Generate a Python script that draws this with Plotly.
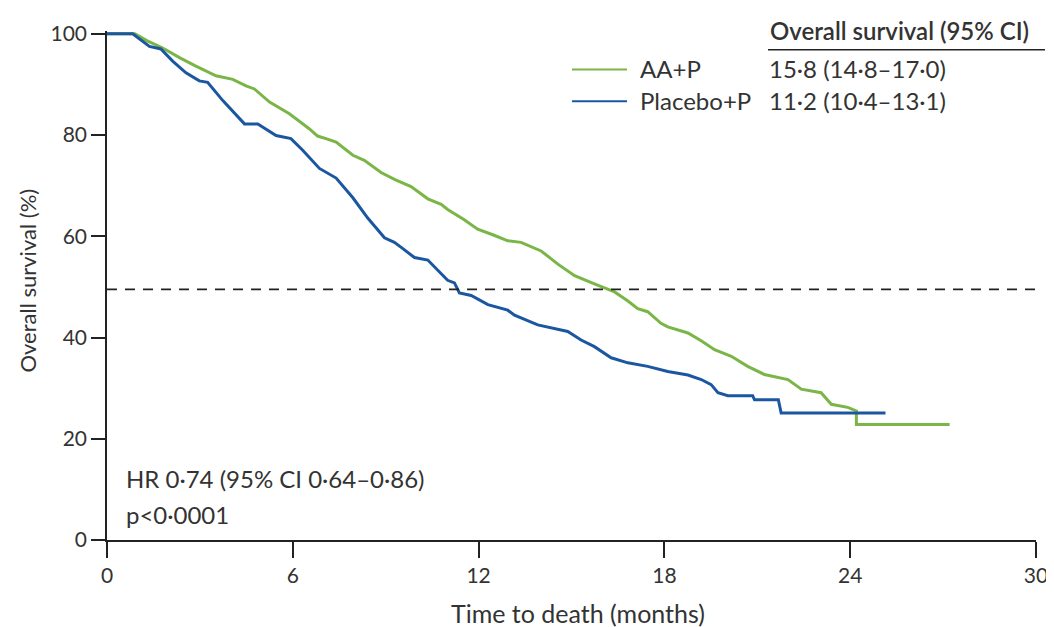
import plotly.graph_objects as go

# ---- data (months, % surviving) ----
aap_t = [0, 0.9, 1.3, 1.8, 2.34, 2.87, 3.52, 4.06, 4.49, 4.76, 5.25, 5.89, 6.54, 6.8, 7.07, 7.4,
         7.94, 8.31, 8.85, 9.3, 9.82, 10.36, 10.79, 11.0, 11.5, 11.97, 12.5, 12.94, 13.37, 14.02,
         14.56, 15.1, 15.74, 16.39, 16.8, 17.14, 17.46, 17.89, 18.11, 18.76, 19.2, 19.62, 20.16,
         20.69, 21.23, 21.99, 22.42, 23.06, 23.39, 23.92, 24.2, 24.2, 27.21]
aap_s = [100, 100, 98.6, 97.2, 95.3, 93.6, 91.7, 91.0, 89.7, 89.1, 86.5, 84.2, 81.2, 79.8, 79.3, 78.6,
         76.0, 75.0, 72.6, 71.2, 69.8, 67.4, 66.3, 65.3, 63.4, 61.4, 60.2, 59.1, 58.8, 57.1,
         54.5, 52.2, 50.6, 49.0, 47.3, 45.7, 45.1, 42.8, 42.1, 40.9, 39.3, 37.6, 36.3,
         34.3, 32.7, 31.7, 29.8, 29.1, 26.8, 26.2, 25.5, 22.8, 22.8]

pbo_t = [0, 0.83, 1.37, 1.74, 2.12, 2.55, 2.98, 3.25, 3.74, 4.17, 4.44, 4.87, 5.46, 5.94, 6.32,
         6.86, 7.4, 7.94, 8.2, 8.42, 8.96, 9.28, 9.5, 9.93, 10.36, 10.79, 11.0, 11.22, 11.38,
         11.76, 12.3, 12.94, 13.16, 13.91, 14.88, 15.31, 15.74, 16.28, 16.82, 17.46, 17.68,
         18.11, 18.76, 19.19, 19.51, 19.73, 20.05, 20.85, 20.91, 21.68, 21.77, 25.14]
pbo_s = [100, 100, 97.5, 97.0, 94.6, 92.3, 90.7, 90.4, 86.8, 83.9, 82.2, 82.2, 79.9, 79.3, 77.0,
         73.4, 71.5, 67.6, 65.3, 63.6, 59.7, 58.8, 57.8, 55.8, 55.3, 52.6, 51.3, 50.8, 48.8,
         48.3, 46.5, 45.4, 44.4, 42.5, 41.2, 39.5, 38.2, 36.0, 35.0, 34.3, 34.0,
         33.3, 32.6, 31.7, 30.7, 29.1, 28.5, 28.5, 27.7, 27.7, 25.1, 25.1]

median_line = 49.5
x_ticks = [0, 6, 12, 18, 24, 30]
y_ticks = [0, 20, 40, 60, 80, 100]
series_names = ["AA+P", "Placebo+P"]
series_ci = ["15·8 (14·8–17·0)", "11·2 (10·4–13·1)"]
header = "Overall survival (95% CI)"
hr_text = "HR 0·74 (95% CI 0·64–0·86)"
p_text = "p<0·0001"

GREEN = "#7ab547"
BLUE = "#1b56a0"
FONT = "Lato"
TXT = "#333333"

W, H = 1054, 627
ML, MR, MT, MB = 99, 26, 18, 95
PW, PH = W - ML - MR, H - MT - MB


def px(x):
    return (x - ML) / PW


def py(y):
    return (H - MB - y) / PH


fig = go.Figure()
fig.add_trace(go.Scatter(x=aap_t, y=aap_s, mode="lines", name=series_names[0],
                         line=dict(color=GREEN, width=3), showlegend=False))
fig.add_trace(go.Scatter(x=pbo_t, y=pbo_s, mode="lines", name=series_names[1],
                         line=dict(color=BLUE, width=3), showlegend=False))

shapes = [
    dict(type="line", xref="x", yref="y", x0=0, x1=30, y0=median_line, y1=median_line,
         line=dict(color="#222222", width=1.6, dash="10px,8px")),
    # legend samples
    dict(type="line", xref="paper", yref="paper", x0=px(564), x1=px(619), y0=py(57), y1=py(57),
         line=dict(color=GREEN, width=2)),
    dict(type="line", xref="paper", yref="paper", x0=px(564), x1=px(619), y0=py(89), y1=py(89),
         line=dict(color=BLUE, width=2)),
    # header underline
    dict(type="line", xref="paper", yref="paper", x0=px(760), x1=px(1037), y0=py(37), y1=py(37),
         line=dict(color="#222222", width=1.5)),
]

ann = []


def add_text(text, x, y, size=24, xanchor="left", angle=0, weight="normal"):
    ann.append(dict(text=text, xref="paper", yref="paper", x=px(x), y=py(y), xanchor=xanchor,
                    yanchor="middle", showarrow=False, textangle=angle,
                    font=dict(family=FONT, size=size, color=TXT, weight=weight)))


add_text(header, 760, 17, size=24, weight=600)
add_text(series_names[0], 630, 56)
add_text(series_names[1], 630, 88)
add_text(series_ci[0], 759, 56)
add_text(series_ci[1], 759, 88)
add_text(hr_text, 116, 470)
add_text(p_text, 116, 506)
add_text("Overall survival (%)", 20, 270, size=22, angle=-90, xanchor="center")
add_text("Time to death (months)", 570, 606, size=25, xanchor="center")

fig.update_layout(
    width=W, height=H, autosize=False,
    margin=dict(l=ML, r=MR, t=MT, b=MB, pad=0),
    paper_bgcolor="white", plot_bgcolor="white",
    font=dict(family=FONT, size=21, color=TXT),
    shapes=shapes, annotations=ann,
    xaxis=dict(range=[0, 30], tickvals=x_ticks, ticktext=[str(v) for v in x_ticks],
               showgrid=False, zeroline=False, showline=True, linecolor="#222222", linewidth=1.5,
               ticks="outside", ticklen=16, tickwidth=1.5, tickcolor="#222222",
               tickfont=dict(family=FONT, size=21, color=TXT)),
    yaxis=dict(range=[0, 100.55], tickvals=y_ticks, ticktext=[str(v) for v in y_ticks],
               showgrid=False, zeroline=False, showline=True, linecolor="#222222", linewidth=1.5,
               ticks="outside", ticklen=14, tickwidth=1.5, tickcolor="#222222",
               tickfont=dict(family=FONT, size=21, color=TXT)),
)

fig.write_html("out.html")
